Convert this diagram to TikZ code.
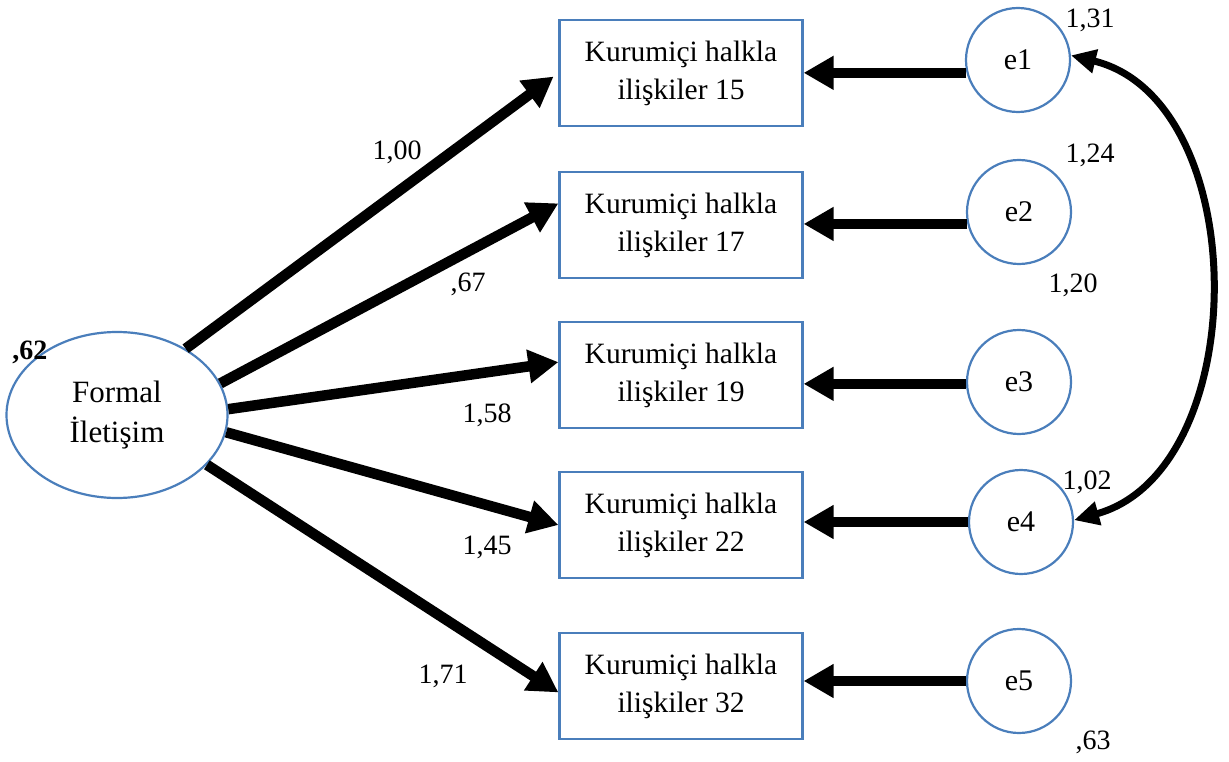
\documentclass[tikz,border=0pt]{standalone}
\usepackage{fontspec}
\setmainfont{Liberation Serif}
\usetikzlibrary{arrows.meta,shapes.geometric}
\definecolor{bordc}{RGB}{74,126,187}
\begin{document}
\begin{tikzpicture}[x=1pt,y=-1pt,
  obs/.style={draw=bordc, line width=2.2pt, minimum width=243pt, minimum height=106pt, align=center, font=\fontsize{29.5}{38}\selectfont, inner sep=0pt},
  err/.style={circle, draw=bordc, line width=2.2pt, minimum size=104pt, font=\fontsize{30}{34}\selectfont, inner sep=0pt},
  lat/.style={ellipse, draw=bordc, line width=2.2pt, minimum width=221pt, minimum height=166pt, align=center, font=\fontsize{31}{40}\selectfont, inner sep=0pt},
  lab/.style={font=\fontsize{28}{32}\selectfont, inner sep=0pt},
  arr/.style={line width=10.5pt, -{Triangle[length=30pt,width=32pt]}},
  curv/.style={line width=7pt, {Triangle[length=25pt,width=23pt]}-{Triangle[length=25pt,width=23pt]}},
]
\useasboundingbox (0,0) rectangle (1229,762);
% latent
\node[lat] (F) at (117,415) {Formal\\İletişim};
% observed
\node[obs] (b1) at (681,73) {Kurumiçi halkla\\ilişkiler 15};
\node[obs] (b2) at (681,225) {Kurumiçi halkla\\ilişkiler 17};
\node[obs] (b3) at (681,375) {Kurumiçi halkla\\ilişkiler 19};
\node[obs] (b4) at (681,525) {Kurumiçi halkla\\ilişkiler 22};
\node[obs] (b5) at (681,686) {Kurumiçi halkla\\ilişkiler 32};
% errors
\node[err] (e1) at (1018,60) {e1};
\node[err] (e2) at (1019,212) {e2};
\node[err] (e3) at (1019,382) {e3};
\node[err] (e4) at (1021,522) {e4};
\node[err] (e5) at (1019,681) {e5};
% loadings
\draw[arr, shorten >=6pt] (F.44) -- (b1.west);
\draw[arr] (F.17) -- (b2.170);
\draw[arr] (F.3) -- (b3.174);
\draw[arr] (F.-9) -- (b4.west);
\draw[arr] (F.-29) -- (b5.183);
% error arrows
\draw[arr] (e1.194) -- (e1.194 -| b1.east);
\draw[arr] (e2.193) -- (e2.193 -| b2.east);
\draw[arr] (e3.182) -- (e3.182 -| b3.east);
\draw[arr] (e4.west) -- (e4.west -| b4.east);
\draw[arr] (e5.west) -- (e5.west -| b5.east);
% covariance
\draw[curv] (e1.5) .. controls (1254,100) and (1254,470) .. (e4.2);
% labels
\node[lab, font=\fontsize{28}{32}\selectfont\bfseries] (l62) at (30,352) {,62};
\node[lab] (l100) at (397,152) {1,00};
\node[lab] (l67) at (468,284) {,67};
\node[lab] (l158) at (487,415) {1,58};
\node[lab] (l145) at (487,547) {1,45};
\node[lab] (l171) at (443,676) {1,71};
\node[lab] (l131) at (1090,20) {1,31};
\node[lab] (l124) at (1090,155) {1,24};
\node[lab] (l120) at (1073,285) {1,20};
\node[lab] (l102) at (1087,482) {1,02};
\node[lab] (l63) at (1093,742) {,63};
\end{tikzpicture}
\end{document}
